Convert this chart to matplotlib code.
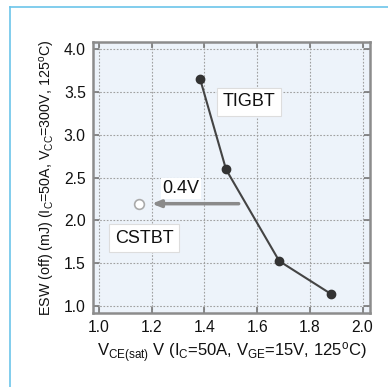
import matplotlib
matplotlib.use("Agg")
import matplotlib.pyplot as plt
from matplotlib.lines import Line2D

plt.rcParams['font.family'] = ['Liberation Sans', 'DejaVu Sans']
plt.rcParams['mathtext.fontset'] = 'custom'
plt.rcParams['mathtext.rm'] = 'Liberation Sans'
plt.rcParams['mathtext.it'] = 'Liberation Sans'

# Data
tigbt_x = [1.384, 1.482, 1.684, 1.881]
tigbt_y = [3.646, 2.595, 1.525, 1.14]
cstbt_x = [1.153]
cstbt_y = [2.195]
arrow_start = (1.53, 2.195)
arrow_end = (1.2, 2.195)
xticks = [1.0, 1.2, 1.4, 1.6, 1.8, 2.0]
yticks = [1.0, 1.5, 2.0, 2.5, 3.0, 3.5, 4.0]

fig = plt.figure(figsize=(3.88, 3.87), dpi=100)
ax = fig.add_axes([0.239, 0.191, 0.715, 0.701])
ax.set_facecolor('#edf3fa')

ax.set_xlim(0.976, 2.029)
ax.set_ylim(0.918, 4.085)
ax.set_xticks(xticks)
ax.set_yticks(yticks)
ax.set_xticklabels([f"{v:.1f}" for v in xticks])
ax.set_yticklabels([f"{v:.1f}" for v in yticks])
ax.grid(True, color='#a0a0a0', linestyle=(0, (1.5, 1.5)), linewidth=0.8)
ax.set_axisbelow(True)
for s in ax.spines.values():
    s.set_color('#8c8c8c')
    s.set_linewidth(1.8)
ax.tick_params(direction='in', length=4, width=1.2, color='#777777',
               top=True, right=True, labelsize=11.3, pad=5, labelcolor='#111111')

ax.plot(tigbt_x, tigbt_y, color='#444444', linewidth=1.5, marker='o',
        markersize=6, markerfacecolor='#333333', markeredgecolor='#333333', zorder=4)
ax.plot(cstbt_x, cstbt_y, linestyle='none', marker='o', markersize=7,
        markerfacecolor='white', markeredgecolor='#aaaaaa', markeredgewidth=1.2, zorder=4)

ax.annotate('', xy=arrow_end, xytext=arrow_start,
            arrowprops=dict(arrowstyle='-|>,head_length=0.5,head_width=0.2',
                            color='#8a8a8a', lw=2.5, shrinkA=0, shrinkB=0), zorder=3)

ax.text(1.569, 3.384, 'TIGBT', fontsize=13, ha='center', va='center', color='#111111',
        bbox=dict(boxstyle='square,pad=0.3', facecolor='white', edgecolor='#dddddd', linewidth=0.8), zorder=5)
ax.text(1.171, 1.794, 'CSTBT', fontsize=13, ha='center', va='center', color='#111111',
        bbox=dict(boxstyle='square,pad=0.3', facecolor='white', edgecolor='#dddddd', linewidth=0.8), zorder=5)
ax.text(1.311, 2.37, '0.4V', fontsize=13, ha='center', va='center', color='#111111',
        bbox=dict(boxstyle='square,pad=0.1', facecolor='white', edgecolor='none'), zorder=5)

ax.set_xlabel(r'V$_{\mathrm{CE(sat)}}$ V (I$_{\mathrm{C}}$=50A, V$_{\mathrm{GE}}$=15V, 125$^{\mathrm{o}}$C)',
              fontsize=12, color='#111111', labelpad=4)
ax.set_ylabel(r'ESW (off) (mJ) (I$_{\mathrm{C}}$=50A, V$_{\mathrm{CC}}$=300V, 125$^{\mathrm{o}}$C)',
              fontsize=10.3, color='#111111', labelpad=5)

# decorative frame lines
fig.add_artist(Line2D([10/388, 1.0], [1 - 7/387, 1 - 7/387], color='#6cc5ea', linewidth=1.2,
                      transform=fig.transFigure))
fig.add_artist(Line2D([10/388, 10/388], [0.0, 1 - 7/387], color='#6cc5ea', linewidth=1.2,
                      transform=fig.transFigure))

fig.savefig('out.png', dpi=100, facecolor='white')
